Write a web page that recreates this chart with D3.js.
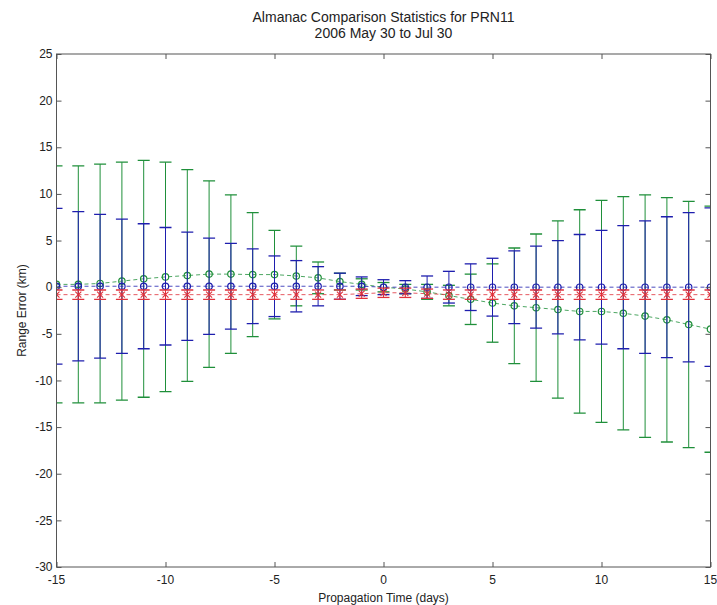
<!DOCTYPE html>
<html>
<head>
<meta charset="utf-8">
<script src="https://cdn.jsdelivr.net/npm/d3@7"></script>
<style>
	body { margin: 0; background: #fff; }
	svg { display: block; }
	text { font-family: "Liberation Sans", Arial, sans-serif; fill: #222; }
</style>
</head>
<body>
<script>
// propagation days
const days = [-15, -14, -13, -12, -11, -10, -9, -8, -7, -6, -5, -4, -3, -2, -1, 0,
	1, 2, 3, 4, 5, 6, 7, 8, 9, 10, 11, 12, 13, 14, 15];

// green series (mean, std) in km
const greenMean = [0.3, 0.3, 0.4, 0.65, 0.9, 1.1, 1.25, 1.4, 1.4, 1.35, 1.35, 1.2, 1.0, 0.6, 0.3, 0.0,
	-0.2, -0.5, -0.9, -1.3, -1.7, -2.0, -2.2, -2.4, -2.6, -2.6, -2.8, -3.1, -3.5, -4.0, -4.5];
const greenStd = [12.7, 12.7, 12.8, 12.75, 12.7, 12.3, 11.35, 10.0, 8.5, 6.65, 4.75, 3.2, 1.7, 0.9, 0.6, 0.5,
	0.5, 0.8, 1.1, 2.7, 4.2, 6.2, 7.9, 9.5, 10.9, 11.9, 12.5, 13.0, 13.1, 13.2, 13.2];

// blue series
const blueMean = [0.1, 0.1, 0.1, 0.1, 0.1, 0.1, 0.1, 0.1, 0.1, 0.1, 0.1, 0.1, 0.1, 0.1, 0.1, 0.0,
	0.0, 0.0, 0.0, 0.0, 0.0, 0.0, 0.0, 0.0, 0.0, 0.0, 0.0, 0.0, 0.0, 0.0, 0.0];
const blueStd = [8.35, 8.0, 7.7, 7.2, 6.7, 6.3, 5.8, 5.15, 4.6, 4.0, 3.25, 2.75, 2.1, 1.4, 1.0, 0.8,
	0.7, 1.2, 1.7, 2.5, 3.1, 3.9, 4.4, 5.0, 5.65, 6.1, 6.6, 7.1, 7.55, 8.0, 8.5];

// red series
const redMean = [-0.8, -0.8, -0.8, -0.8, -0.8, -0.8, -0.8, -0.8, -0.8, -0.8, -0.8, -0.8, -0.8, -0.8, -0.7, -0.6,
	-0.6, -0.7, -0.8, -0.8, -0.8, -0.8, -0.8, -0.8, -0.8, -0.8, -0.8, -0.8, -0.8, -0.8, -0.8];
const redStd = [0.5, 0.5, 0.5, 0.5, 0.5, 0.5, 0.5, 0.5, 0.5, 0.5, 0.5, 0.5, 0.5, 0.5, 0.5, 0.5,
	0.5, 0.5, 0.5, 0.5, 0.5, 0.5, 0.5, 0.5, 0.5, 0.5, 0.5, 0.5, 0.5, 0.5, 0.5];

const xTicks = [-15, -10, -5, 0, 5, 10, 15];
const yTicks = [-30, -25, -20, -15, -10, -5, 0, 5, 10, 15, 20, 25];

const width = 717,
	height = 605,
	margin = { top: 54, right: 6.5, bottom: 38, left: 56.5 },
	capHalf = 6,
	tickLen = 5,
	fontSize = '12px';

let x = d3.scaleLinear().domain([-15, 15]).range([margin.left, width - margin.right]);
let y = d3.scaleLinear().domain([-30, 25]).range([height - margin.bottom, margin.top]);

let svg = d3.select('body').append('svg')
	.attr('width', width)
	.attr('height', height);

svg.append('clipPath').attr('id', 'plotclip')
	.append('rect')
	.attr('x', x(-15)).attr('y', y(25))
	.attr('width', x(15) - x(-15))
	.attr('height', y(-30) - y(25));

let plot = svg.append('g').attr('clip-path', 'url(#plotclip)');

function drawSeries(mean, std, color, marker) {
	let g = plot.append('g');

	// dashed line through the means
	g.append('path')
		.datum(days)
		.attr('fill', 'none')
		.attr('stroke', color)
		.attr('stroke-width', 0.8)
		.attr('stroke-dasharray', '4,3')
		.attr('d', d3.line()
			.x(d => x(d))
			.y((d, i) => y(mean[i])));

	// vertical bars
	g.selectAll('line.bar')
		.data(days)
		.enter().append('line')
		.attr('class', 'bar')
		.attr('x1', d => x(d)).attr('x2', d => x(d))
		.attr('y1', (d, i) => y(mean[i] + std[i]))
		.attr('y2', (d, i) => y(mean[i] - std[i]))
		.attr('stroke', color)
		.attr('stroke-width', 1);

	// caps top and bottom
	[1, -1].forEach(s => {
		g.selectAll('line.cap' + (s > 0 ? 't' : 'b'))
			.data(days)
			.enter().append('line')
			.attr('class', 'cap' + (s > 0 ? 't' : 'b'))
			.attr('x1', d => x(d) - capHalf).attr('x2', d => x(d) + capHalf)
			.attr('y1', (d, i) => y(mean[i] + s * std[i]))
			.attr('y2', (d, i) => y(mean[i] + s * std[i]))
			.attr('stroke', color)
			.attr('stroke-width', 1.3);
	});

	if (marker === 'o') {
		g.selectAll('circle')
			.data(days)
			.enter().append('circle')
			.attr('cx', d => x(d))
			.attr('cy', (d, i) => y(mean[i]))
			.attr('r', 3.2)
			.attr('fill', 'none')
			.attr('stroke', color)
			.attr('stroke-width', 1.2);
	} else {
		let m = 3;
		g.selectAll('path.mk')
			.data(days)
			.enter().append('path')
			.attr('class', 'mk')
			.attr('d', (d, i) => {
				let cx = x(d), cy = y(mean[i]);
				return 'M' + (cx - m) + ',' + (cy - m) + 'L' + (cx + m) + ',' + (cy + m) +
					'M' + (cx - m) + ',' + (cy + m) + 'L' + (cx + m) + ',' + (cy - m);
			})
			.attr('stroke', color)
			.attr('stroke-width', 1.1);
	}
}

drawSeries(greenMean, greenStd, '#1f8f3a', 'o');
drawSeries(blueMean, blueStd, '#1e1eae', 'o');
drawSeries(redMean, redStd, '#e0303a', 'x');

// axes box
let axisColor = '#555';
svg.append('rect')
	.attr('x', x(-15)).attr('y', y(25))
	.attr('width', x(15) - x(-15))
	.attr('height', y(-30) - y(25))
	.attr('fill', 'none')
	.attr('stroke', axisColor)
	.attr('stroke-width', 1);

// ticks pointing inward on all four sides
let bottomAxis = d3.axisTop(x).tickValues(xTicks).tickSize(tickLen).tickFormat('');
let topAxis = d3.axisBottom(x).tickValues(xTicks).tickSize(tickLen).tickFormat('');
let leftAxis = d3.axisRight(y).tickValues(yTicks).tickSize(tickLen).tickFormat('');
let rightAxis = d3.axisLeft(y).tickValues(yTicks).tickSize(tickLen).tickFormat('');

svg.append('g').attr('transform', 'translate(0,' + y(-30) + ')').call(bottomAxis);
svg.append('g').attr('transform', 'translate(0,' + y(25) + ')').call(topAxis);
svg.append('g').attr('transform', 'translate(' + x(-15) + ',0)').call(leftAxis);
svg.append('g').attr('transform', 'translate(' + x(15) + ',0)').call(rightAxis);
svg.selectAll('.domain').remove();
svg.selectAll('.tick line').attr('stroke', axisColor);

// tick labels
svg.append('g').selectAll('text')
	.data(xTicks)
	.enter().append('text')
	.attr('x', d => x(d))
	.attr('y', y(-30) + 17)
	.attr('text-anchor', 'middle')
	.attr('font-size', fontSize)
	.text(d => d);

svg.append('g').selectAll('text')
	.data(yTicks)
	.enter().append('text')
	.attr('x', x(-15) - 4)
	.attr('y', d => y(d))
	.attr('dy', '.35em')
	.attr('text-anchor', 'end')
	.attr('font-size', fontSize)
	.text(d => d);

// titles
let midX = (x(-15) + x(15)) / 2;
svg.append('text')
	.attr('x', midX).attr('y', 22)
	.attr('text-anchor', 'middle')
	.attr('font-size', '14px')
	.text('Almanac Comparison Statistics for PRN11');
svg.append('text')
	.attr('x', midX).attr('y', 38)
	.attr('text-anchor', 'middle')
	.attr('font-size', '14px')
	.text('2006 May 30 to Jul 30');

svg.append('text')
	.attr('x', midX).attr('y', 602)
	.attr('text-anchor', 'middle')
	.attr('font-size', fontSize)
	.text('Propagation Time (days)');

svg.append('text')
	.attr('transform', 'translate(26,' + ((y(25) + y(-30)) / 2) + ') rotate(-90)')
	.attr('text-anchor', 'middle')
	.attr('font-size', fontSize)
	.text('Range Error (km)');
</script>
</body>
</html>
